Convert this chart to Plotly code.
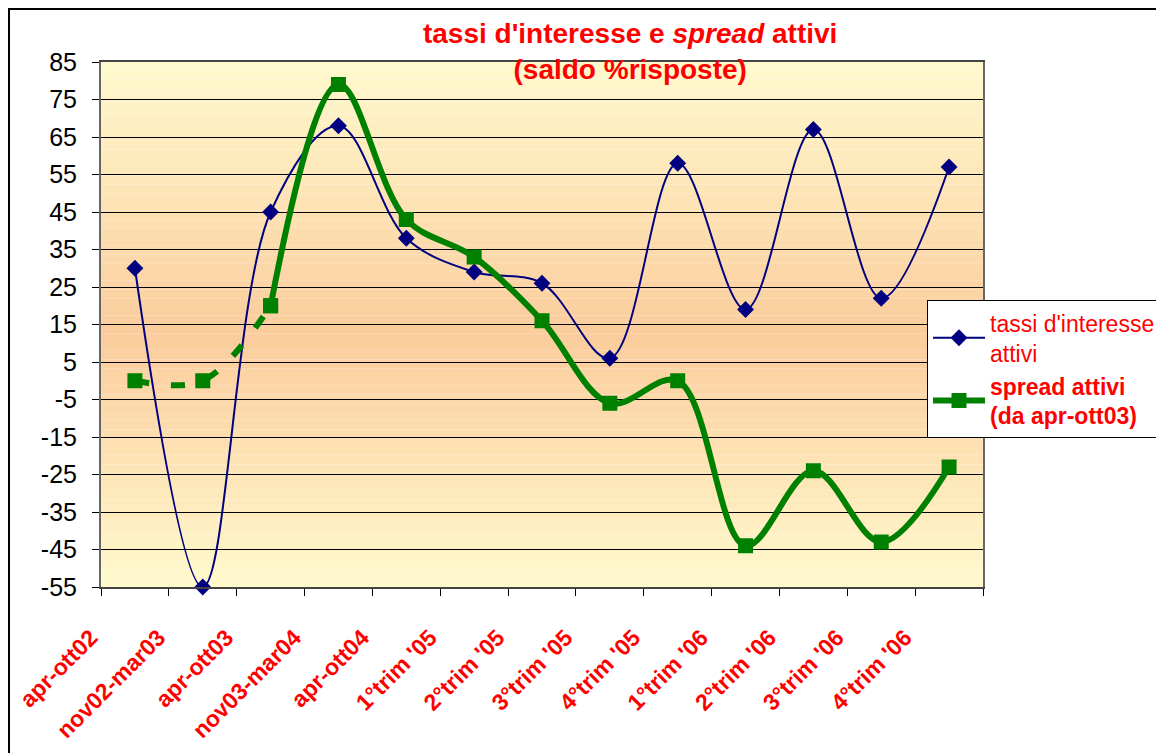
import plotly.graph_objects as go

# categories and survey balances (saldo % risposte)
periodi = ["apr-ott02", "nov02-mar03", "apr-ott03", "nov03-mar04", "apr-ott04",
           "1°trim '05", "2°trim '05", "3°trim '05", "4°trim '05",
           "1°trim '06", "2°trim '06", "3°trim '06", "4°trim '06"]
tassi_attivi = [30, -55, 45, 68, 38, 29, 26, 6, 58, 19, 67, 22, 57]
spread_attivi = [0, 0, 20, 79, 43, 33, 16, -6, 0, -44, -24, -43, -23]
# spread is surveyed only from apr-ott03: earlier part drawn dashed
inizio_spread = 2

y_ticks = list(range(-55, 86, 10))
y_labels = [str(v) for v in y_ticks]

fig = go.Figure()

fig.add_trace(go.Scatter(
    x=periodi, y=tassi_attivi, name="tassi d'interesse<br>attivi",
    mode="lines+markers", line=dict(color="#000080", width=2, shape="spline", smoothing=1),
    marker=dict(symbol="diamond", size=13, color="#000080"), cliponaxis=False))

fig.add_trace(go.Scatter(
    x=periodi[:inizio_spread + 1], y=spread_attivi[:inizio_spread + 1], showlegend=False,
    mode="lines+markers", line=dict(color="#008000", width=6, dash="14px,22px", shape="spline", smoothing=1),
    marker=dict(symbol="square", size=15, color="#008000"), cliponaxis=False))

fig.add_trace(go.Scatter(
    x=periodi[inizio_spread:], y=spread_attivi[inizio_spread:], name="<b>spread attivi<br>(da apr-ott03)</b>",
    mode="lines+markers", line=dict(color="#008000", width=6, shape="spline", smoothing=1),
    marker=dict(symbol="square", size=15, color="#008000"), cliponaxis=False))

# vertical gradient for plot background (yellow -> peach -> yellow)
edge = (255, 250, 205)
mid = (251, 204, 156)
peak = 0.48
n = 60
shapes = []
for i in range(n):
    y0 = i / n
    y1 = (i + 1) / n
    yc = (y0 + y1) / 2
    t = abs(yc - peak) / (peak if yc < peak else 1 - peak)
    c = tuple(round(m + (e - m) * t) for m, e in zip(mid, edge))
    shapes.append(dict(type="rect", xref="x domain", yref="y domain", x0=0, x1=1, y0=y0, y1=y1,
                       fillcolor="rgb(%d,%d,%d)" % c, line=dict(width=0), layer="below"))
# outer chart frame
shapes.append(dict(type="rect", xref="paper", yref="paper", x0=-0.1043, x1=1.5, y0=-0.6, y1=1.101,
                   line=dict(color="black", width=2), fillcolor="rgba(0,0,0,0)", layer="above"))

fig.update_layout(
    width=1164, height=753,
    margin=dict(l=93, r=189, t=54, b=174, autoexpand=False),
    paper_bgcolor="white", plot_bgcolor="white",
    font=dict(family="Arial, Liberation Sans, sans-serif", color="black"),
    title=dict(text="<b>tassi d'interesse e <i>spread</i> attivi<br>(saldo %risposte)</b>",
               font=dict(size=28, color="#FF0000"), xref="paper", x=0.6, xanchor="center",
               yref="container", y=0.954, yanchor="middle"),
    shapes=shapes,
    legend=dict(x=0.9365, xanchor="left", y=0.546, yanchor="top",
                bgcolor="white", bordercolor="black", borderwidth=1,
                font=dict(size=23, color="#FF0000"), itemwidth=52, tracegroupgap=0),
    showlegend=True,
)

fig.update_xaxes(
    type="category", range=[-0.5, len(periodi) - 0.5], tickangle=-45, tickson="boundaries",
    ticks="outside", ticklen=7, tickcolor="black", showgrid=False,
    showline=True, linecolor="#444", linewidth=2, mirror=True,
    tickfont=dict(size=23, color="#FF0000", weight="bold"),
    ticklabelstandoff=26, ticklabelshift=-44)
fig.update_yaxes(
    range=[-55, 85], tickvals=y_ticks, ticktext=y_labels, ticks="outside", ticklen=7, tickcolor="black",
    showgrid=True, gridcolor="black", gridwidth=1, zeroline=False,
    showline=True, linecolor="#666", linewidth=2, mirror=True,
    tickfont=dict(size=25, color="black"), ticklabelstandoff=10)

fig.write_html("out.html")
